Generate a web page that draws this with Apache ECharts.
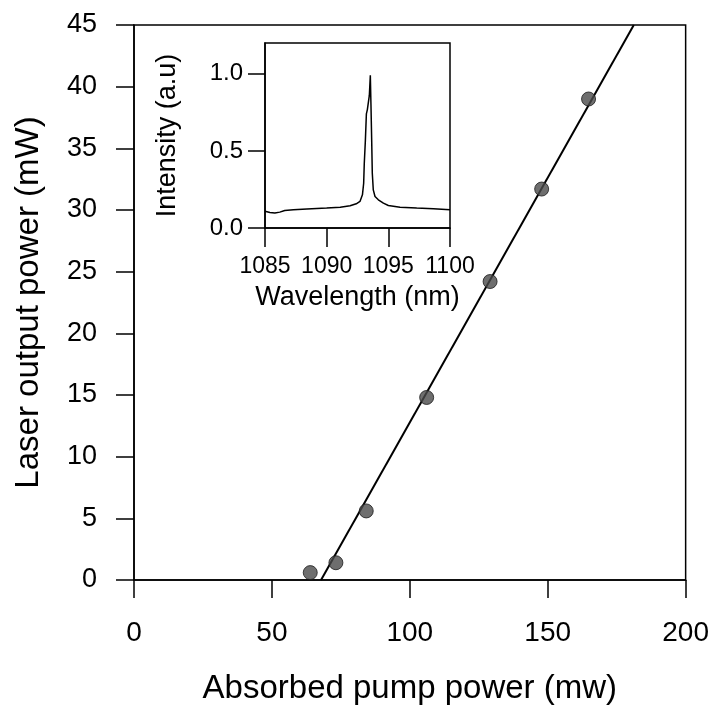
<!DOCTYPE html>
<html>
<head>
<meta charset="utf-8">
<script src="https://cdn.jsdelivr.net/npm/echarts@6/dist/echarts.min.js"></script>
<style>
html,body{margin:0;padding:0;background:#fff;}
#chart{width:712px;height:711px;}
</style>
</head>
<body>
<div id="chart"></div>
<script>
// Main plot data
const pumpPower = [63.9, 73.2, 84.2, 106.1, 129.1, 147.8, 164.8];
const outputPower = [0.6, 1.4, 5.6, 14.8, 24.2, 31.7, 39.0];
// Linear fit endpoints
const fitX = [67.8, 181.2];
const fitY = [0, 45];
// Inset spectrum
const wavelength = [1085.0, 1085.4, 1085.8, 1086.2, 1086.6, 1087.3, 1088.4, 1090.0, 1091.1, 1091.9, 1092.4, 1092.7, 1092.9, 1093.0, 1093.05, 1093.14, 1093.22, 1093.3, 1093.41, 1093.46, 1093.54, 1093.59, 1093.65, 1093.70, 1093.78, 1093.92, 1094.19, 1094.6, 1095.0, 1095.95, 1097.3, 1098.65, 1100.0];
const intensity = [0.108, 0.101, 0.097, 0.103, 0.114, 0.118, 0.123, 0.129, 0.135, 0.144, 0.157, 0.172, 0.215, 0.29, 0.42, 0.57, 0.74, 0.768, 0.78, 0.86, 0.99, 0.806, 0.57, 0.355, 0.247, 0.204, 0.183, 0.161, 0.146, 0.135, 0.129, 0.125, 0.118];
const insetYTicks = [0, 0.5, 1.0];

const FONT = 'Liberation Sans, Arial, sans-serif';
const black = '#000';

const chart = echarts.init(document.getElementById('chart'), null, {renderer: 'canvas'});

const axisCommon = {
  axisLine: {show: true, onZero: false, lineStyle: {color: black, width: 1.5}},
  axisTick: {show: true, inside: false, length: 18, lineStyle: {color: black, width: 1.5}},
  splitLine: {show: false},
};

const option = {
  animation: false,
  backgroundColor: '#fff',
  grid: [
    {left: 134, top: 25, width: 554, height: 555, show: true, borderColor: black, borderWidth: 1.5, backgroundColor: '#fff'},
    {left: 265, top: 43, width: 185, height: 185, show: true, borderColor: black, borderWidth: 1.5, backgroundColor: '#fff', z: 5}
  ],
  xAxis: [
    Object.assign({}, axisCommon, {
      type: 'value', gridIndex: 0, min: 0, max: 200, interval: 50,
      axisLabel: {fontSize: 28, color: black, margin: 39, fontFamily: FONT},
      name: 'Absorbed pump power (mw)', nameLocation: 'middle', nameGap: 92,
      nameTextStyle: {fontSize: 33, color: black, fontFamily: FONT}
    }),
    Object.assign({}, axisCommon, {
      type: 'value', gridIndex: 1, min: 1085, max: 1100, interval: 5, z: 6,
      axisTick: {show: true, length: 19, lineStyle: {color: black, width: 1.5}},
      axisLabel: {fontSize: 23, color: black, margin: 27, fontFamily: FONT, formatter: v => String(v)},
      name: 'Wavelength (nm)', nameLocation: 'middle', nameGap: 56,
      nameTextStyle: {fontSize: 27, color: black, fontFamily: FONT}
    })
  ],
  yAxis: [
    Object.assign({}, axisCommon, {
      type: 'value', gridIndex: 0, min: 0, max: 45, interval: 5,
      axisLabel: {fontSize: 27, color: black, margin: 37, fontFamily: FONT},
      name: 'Laser output power (mW)', nameLocation: 'middle', nameGap: 89, nameRotate: 90,
      nameTextStyle: {fontSize: 33, color: black, fontFamily: FONT}
    }),
    Object.assign({}, axisCommon, {
      type: 'value', gridIndex: 1, min: 0, max: 1.2, z: 6,
      axisTick: {show: true, length: 17, customValues: insetYTicks, lineStyle: {color: black, width: 1.5}},
      axisLabel: {fontSize: 24, color: black, margin: 22, fontFamily: FONT, customValues: insetYTicks,
        formatter: v => v.toFixed(1)},
      name: 'Intensity (a.u)', nameLocation: 'middle', nameGap: 84, nameRotate: 90,
      nameTextStyle: {fontSize: 27, color: black, fontFamily: FONT}
    })
  ],
  series: [
    {
      type: 'line', xAxisIndex: 0, yAxisIndex: 0,
      data: fitX.map((x, i) => [x, fitY[i]]),
      symbol: 'none', clip: true,
      lineStyle: {color: black, width: 2}, z: 2
    },
    {
      type: 'scatter', xAxisIndex: 0, yAxisIndex: 0,
      data: pumpPower.map((x, i) => [x, outputPower[i]]),
      symbol: 'circle', symbolSize: 14,
      itemStyle: {color: '#4a4a4a', borderColor: '#1a1a1a', borderWidth: 1}, z: 3
    },
    {
      type: 'line', xAxisIndex: 1, yAxisIndex: 1,
      data: wavelength.map((x, i) => [x, intensity[i]]),
      symbol: 'none', clip: true,
      lineStyle: {color: black, width: 1.5}, z: 7
    }
  ]
};

chart.setOption(option);
</script>
</body>
</html>
